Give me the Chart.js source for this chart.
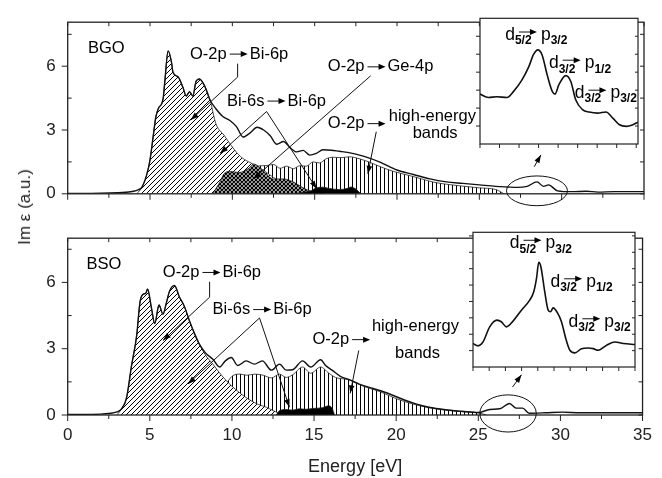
<!DOCTYPE html>
<html>
<head>
<meta charset="utf-8">
<script src="https://cdn.jsdelivr.net/npm/chart.js@4.4.0/dist/chart.umd.min.js"></script>
<style>
  body { margin: 0; background: #fff; }
  #wrap { position: relative; width: 662px; height: 478px; overflow: hidden; background: #fff;
          font-family: 'Liberation Sans', Arial, sans-serif; }
  canvas { position: absolute; }
  #ylab { position: absolute; left: 25px; top: 207px; transform: translate(-50%, -50%) rotate(-90deg);
          font-size: 17px; color: #222; white-space: nowrap; }
</style>
</head>
<body>
<div id="wrap">
  <canvas id="bgo" width="662" height="216" style="left:0;top:0"></canvas>
  <canvas id="bso" width="662" height="262" style="left:0;top:216px"></canvas>
  <canvas id="bgoInset" width="167" height="135" style="left:474px;top:16px"></canvas>
  <canvas id="bsoInset" width="171" height="144" style="left:467px;top:230px"></canvas>
  <div id="ylab">Im ε (a.u.)</div>
</div>
<script>
// ---- BGO (top panel) ----
const bgoTotalE = [0, 1, 2, 3, 3.5, 4, 4.3, 4.5, 4.8, 5.0, 5.2, 5.35, 5.5, 5.8, 5.9, 6.1, 6.3, 6.4, 6.7, 7.0,
  7.2, 7.4, 7.6, 7.8, 8.0, 8.3, 8.65, 9.0, 9.4, 9.85, 10.25, 10.65, 11.1, 11.5, 11.9, 12.3, 12.7, 13.1, 13.5, 13.9,
  14.3, 14.7, 15.1, 15.5, 16.0, 16.5, 17.0, 18.0, 19.0, 20.0, 21, 22, 23, 24, 25, 26, 26.7, 27.3, 27.9, 28.5,
  28.9, 29.2, 29.75, 30.6, 31.5, 32.2, 33.2, 34.2, 35];
const bgoTotalIm = [0.02, 0.02, 0.03, 0.05, 0.07, 0.12, 0.2, 0.3, 0.9, 1.6, 2.75, 3.6, 4.0, 4.5, 5.3, 6.72, 6.2, 5.7, 5.5, 5.0,
  4.6, 4.8, 4.6, 5.3, 5.4, 5.1, 4.4, 4.0, 3.65, 3.45, 3.16, 2.67, 2.88, 3.13, 3.0, 2.73, 2.33, 2.46, 2.17, 1.97,
  2.04, 1.82, 1.9, 2.07, 2.05, 2.0, 1.95, 1.76, 1.48, 1.12, 0.91, 0.7, 0.56, 0.49, 0.42, 0.35, 0.32, 0.3, 0.35, 0.56,
  0.35, 0.42, 0.14, 0.1, 0.12, 0.08, 0.1, 0.1, 0.1];
// O-2p -> Bi-6p
const bgoBiE = [4.2, 4.5, 4.8, 5.0, 5.2, 5.35, 5.5, 5.8, 5.9, 6.1, 6.3, 6.4, 6.7, 7.0, 7.2, 7.4, 7.6, 7.8, 8.0, 8.3, 8.65,
  9.0, 9.5, 10.0, 10.5, 11.0, 11.5, 12.0, 12.5, 13.0, 13.5, 14.0, 14.5, 15.0, 15.5];
const bgoBiIm = [0, 0.3, 0.9, 1.6, 2.75, 3.6, 4.0, 4.5, 5.3, 6.72, 6.2, 5.7, 5.5, 5.0, 4.6, 4.8, 4.6, 5.3, 5.4, 5.1, 4.4,
  3.3, 2.75, 2.2, 1.75, 1.5, 1.3, 1.05, 0.77, 0.55, 0.4, 0.3, 0.15, 0.08, 0];
// O-2p -> Ge-4p
const bgoGeE = [8.8, 9.25, 9.5, 9.85, 10.4, 11.0, 11.3, 11.9, 12.5, 13.1, 13.7, 14.3, 14.9, 15.2];
const bgoGeIm = [0, 0.56, 0.95, 1.05, 1.0, 1.2, 1.4, 1.05, 0.7, 0.7, 0.56, 0.28, 0.07, 0];
// O-2p -> high-energy bands
const bgoHighE = [10.0, 10.5, 11.0, 11.5, 12.1, 12.5, 12.9, 13.3, 13.7, 14.1, 14.5, 14.9, 15.3, 15.7, 16.1, 16.6, 17.1,
  17.7, 18.35, 19.0, 19.8, 20.8, 21.5, 22.2, 23.0, 24.0, 25.0, 26.0, 26.5];
const bgoHighIm = [0, 0.9, 1.15, 1.3, 1.33, 1.38, 1.2, 1.3, 1.18, 1.32, 1.3, 1.5, 1.45, 1.65, 1.72, 1.7, 1.74,
  1.65, 1.48, 1.27, 1.05, 0.85, 0.7, 0.55, 0.45, 0.36, 0.28, 0.2, 0];
// Bi-6s -> Bi-6p
const bgoSsE = [13.8, 14.2, 14.8, 15.1, 15.5, 15.9, 16.5, 17.0, 17.2, 17.5, 17.8];
const bgoSsIm = [0, 0.06, 0.15, 0.28, 0.31, 0.25, 0.2, 0.26, 0.32, 0.22, 0];

// ---- BSO (bottom panel) ----
const bsoTotalE = [0, 1, 2, 2.5, 3.0, 3.3, 3.58, 3.88, 4.2, 4.4, 4.6, 4.75, 4.86, 5.1, 5.3, 5.56, 5.8, 6.0, 6.2, 6.5,
  6.8, 7.1, 7.4, 7.7, 8.0, 8.4, 8.84, 9.25, 9.6, 9.96, 10.35, 10.87, 11.37, 11.85, 12.4, 12.9, 13.3, 13.7, 14.3, 14.8,
  15.4, 15.7, 16.1, 16.6, 17.1, 17.75, 18.6, 19.6, 20.5, 21.3, 22, 23, 24, 25, 25.7, 26.3, 26.9, 27.3, 27.7, 28.1,
  29.1, 30.1, 31.2, 32.2, 33.5, 35];
const bsoTotalIm = [0.02, 0.02, 0.04, 0.07, 0.14, 0.3, 0.77, 2.2, 3.6, 5.1, 5.47, 5.5, 5.7, 4.84, 4.14, 4.98, 4.56, 5.05, 5.6, 5.86,
  5.34, 4.92, 4.29, 3.72, 3.23, 2.8, 2.52, 2.17, 2.45, 2.6, 2.24, 2.45, 2.3, 2.45, 2.03, 2.3, 2.03, 2.05, 2.45, 2.17,
  2.5, 2.24, 2.03, 1.75, 1.61, 1.4, 1.2, 0.95, 0.68, 0.48, 0.35, 0.24, 0.17, 0.11, 0.25, 0.28, 0.52, 0.31, 0.31, 0.08,
  0.1, 0.13, 0.1, 0.1, 0.1, 0.1];
const bsoBiE = [3.0, 3.3, 3.58, 3.88, 4.2, 4.4, 4.6, 4.75, 4.86, 5.1, 5.3, 5.56, 5.8, 6.0, 6.2, 6.5, 6.8, 7.1, 7.4, 7.7,
  8.0, 8.4, 8.84, 9.2, 9.6, 10.0, 10.4, 10.8, 11.2, 11.6, 12.1, 12.5, 12.8, 13.0];
const bsoBiIm = [0, 0.3, 0.77, 2.2, 3.6, 5.1, 5.47, 5.5, 5.7, 4.84, 4.14, 4.98, 4.56, 5.05, 5.6, 5.86, 5.34, 4.92, 4.29, 3.72,
  3.23, 2.7, 2.3, 1.95, 1.6, 1.3, 1.05, 0.82, 0.63, 0.48, 0.35, 0.2, 0.1, 0];
const bsoHighE = [8.3, 8.8, 9.2, 9.6, 10.0, 10.5, 10.9, 11.4, 11.9, 12.4, 12.9, 13.3, 13.7, 14.3, 14.8, 15.4, 15.9, 16.3,
  16.6, 17.1, 18.0, 19.0, 20.0, 21.0, 22.0, 23.0, 24.0, 25.0, 25.5];
const bsoHighIm = [0, 0.6, 1.0, 1.35, 1.75, 1.85, 1.8, 1.85, 1.8, 1.68, 1.85, 1.7, 1.82, 2.17, 1.89, 2.17, 1.89, 1.7,
  1.65, 1.6, 1.3, 1.06, 0.74, 0.5, 0.33, 0.22, 0.15, 0.1, 0];
const bsoSsE = [12.7, 12.9, 13.3, 13.7, 14.1, 14.5, 15.0, 15.5, 15.9, 16.1, 16.25];
const bsoSsIm = [0, 0.2, 0.25, 0.22, 0.28, 0.26, 0.3, 0.33, 0.42, 0.3, 0];

// ---- insets (arbitrary units) ----
const bgoInsetX = [0, 0.43, 0.86, 1.38, 1.72, 2.15, 2.5, 2.75, 2.96, 3.18, 3.44, 3.7, 3.84, 4.04, 4.39, 4.65, 4.9,
  5.25, 5.59, 6.02, 6.45, 6.8, 7.14, 7.49, 7.83, 8.09];
const bgoInsetY = [2.78, 2.59, 2.63, 2.59, 2.93, 3.57, 4.31, 5.0, 5.24, 4.96, 3.85, 2.93, 2.78, 3.3, 3.81, 3.48, 2.46,
  1.91, 1.78, 1.72, 1.78, 1.44, 1.07, 0.98, 1.07, 1.22];
const bsoInsetX = [0, 0.31, 0.62, 1.03, 1.48, 1.75, 2.06, 2.47, 2.99, 3.5, 3.75, 3.92, 4.06, 4.19, 4.43, 4.64, 4.78,
  4.95, 5.2, 5.46, 5.73, 5.98, 6.29, 6.7, 7.11, 7.42, 7.73, 8.25, 8.76, 9.28, 10];
const bsoInsetY = [1.43, 1.29, 1.53, 2.45, 2.86, 2.76, 2.45, 2.8, 3.47, 4.08, 4.59, 5.41, 6.39, 6.12, 4.59, 3.47, 3.37,
  3.61, 3.33, 2.76, 1.73, 1.02, 0.86, 1.12, 1.16, 1.12, 1.02, 1.33, 1.53, 1.43, 1.37];

const FAM = "'Liberation Sans', Arial, sans-serif";
const NOTE = '16.5px ' + FAM;
Chart.defaults.font.family = FAM;
Chart.defaults.color = '#222';

function pts(xs, ys) {
  return xs.map((x, i) => ({ x: x, y: ys[i] }));
}

function hatch(ctx, kind) {
  const s = kind === 'diag' ? 5 : 4;
  const c = document.createElement('canvas');
  c.width = s; c.height = s;
  const g = c.getContext('2d');
  g.fillStyle = '#fff';
  g.fillRect(0, 0, s, s);
  g.strokeStyle = '#000';
  g.lineWidth = kind === 'cross' ? 1.25 : 1;
  g.beginPath();
  if (kind === 'vert') { g.moveTo(0.5, 0); g.lineTo(0.5, s); }
  if (kind === 'diag' || kind === 'cross') {
    g.moveTo(-1, s + 1); g.lineTo(s + 1, -1);
    g.moveTo(-1, 1); g.lineTo(1, -1);
    g.moveTo(s - 1, s + 1); g.lineTo(s + 1, s - 1);
  }
  if (kind === 'cross') {
    g.moveTo(-1, -1); g.lineTo(s + 1, s + 1);
    g.moveTo(s - 1, -1); g.lineTo(s + 1, 1);
    g.moveTo(-1, s - 1); g.lineTo(1, s + 1);
  }
  g.stroke();
  return ctx.createPattern(c, 'repeat');
}

function region(xs, ys, bg) {
  return { data: pts(xs, ys), fill: 'origin', backgroundColor: bg, borderColor: '#222', borderWidth: 0.8,
           pointRadius: 0, cubicInterpolationMode: 'monotone' };
}
function curve(xs, ys, w) {
  return { data: pts(xs, ys), fill: false, borderColor: '#111', borderWidth: w, pointRadius: 0,
           cubicInterpolationMode: 'monotone' };
}

function arrowHead(c, x0, y0, x1, y1, len, half) {
  const a = Math.atan2(y1 - y0, x1 - x0);
  c.beginPath();
  c.moveTo(x1, y1);
  c.lineTo(x1 - len * Math.cos(a) + half * Math.sin(a), y1 - len * Math.sin(a) - half * Math.cos(a));
  c.lineTo(x1 - len * Math.cos(a) - half * Math.sin(a), y1 - len * Math.sin(a) + half * Math.cos(a));
  c.closePath();
  c.fill();
}
function leader(c, p) {
  c.beginPath();
  c.moveTo(p[0][0], p[0][1]);
  for (let i = 1; i < p.length; i++) c.lineTo(p[i][0], p[i][1]);
  c.stroke();
  const a = p[p.length - 2], b = p[p.length - 1];
  arrowHead(c, a[0], a[1], b[0], b[1], 8, 2.8);
}
function transition(c, x, y, a, b) {
  c.fillText(a, x, y);
  const p = x + c.measureText(a).width + 3;
  c.beginPath(); c.moveTo(p, y); c.lineTo(p + 12, y); c.stroke();
  arrowHead(c, p, y, p + 18, y, 7, 3);
  if (b) c.fillText(b, p + 20, y);
}
function spinLabel(c, x, y, s1, s2) {
  c.font = '17.5px ' + FAM;
  c.fillText('d', x, y);
  const d1 = x + c.measureText('d').width;
  c.font = 'bold 12px ' + FAM;
  c.fillText(s1, d1, y + 6);
  const a0 = d1 + 4, a1 = a0 + 18;
  c.beginPath(); c.moveTo(a0, y - 3); c.lineTo(a1 - 5, y - 3); c.stroke();
  arrowHead(c, a0, y - 3, a1, y - 3, 7, 3);
  const p = a1 + 4;
  c.font = '17.5px ' + FAM;
  c.fillText('p', p, y);
  const p1 = p + c.measureText('p').width;
  c.font = 'bold 12px ' + FAM;
  c.fillText(s2, p1, y + 6);
}

// frame and tick marks of a main panel
const frame = {
  id: 'frame',
  afterDatasetsDraw(chart) {
    const { ctx, chartArea: a, scales: { x, y } } = chart;
    ctx.save();
    ctx.strokeStyle = '#222';
    ctx.lineWidth = 1.3;
    ctx.strokeRect(a.left, a.top, a.right - a.left, a.bottom - a.top);
    ctx.lineWidth = 1;
    ctx.beginPath();
    x.ticks.forEach(t => {
      const px = x.getPixelForValue(t.value);
      const major = Math.abs(t.value % 5) < 1e-6;
      ctx.moveTo(px, a.bottom); ctx.lineTo(px, a.bottom + (major ? 6 : 4));
      ctx.moveTo(px, a.top); ctx.lineTo(px, a.top + 4);
    });
    y.ticks.forEach(t => {
      const py = y.getPixelForValue(t.value);
      const major = Math.abs(t.value % 3) < 1e-6;
      if (major) { ctx.moveTo(a.left - 6, py); ctx.lineTo(a.left, py); }
      else { ctx.moveTo(a.left, py); ctx.lineTo(a.left + 4, py); }
      ctx.moveTo(a.right, py); ctx.lineTo(a.right - 4, py);
    });
    ctx.stroke();
    ctx.restore();
  }
};

function mainOptions(ymax, padTop, xh, withLabels) {
  return {
    responsive: false,
    animation: false,
    events: [],
    layout: { padding: { top: padTop, right: 18, left: 0, bottom: 0 } },
    plugins: { legend: { display: false }, tooltip: { enabled: false } },
    scales: {
      x: {
        type: 'linear', min: 0, max: 35,
        grid: { display: false, drawTicks: false },
        border: { display: false },
        ticks: { display: withLabels, stepSize: 2.5, includeBounds: false, autoSkip: false, maxRotation: 0,
                 padding: 10, font: { size: 17 }, callback: v => (Math.abs(v % 5) < 1e-6 ? v : '') },
        title: { display: withLabels, text: 'Energy [eV]', font: { size: 18 }, padding: 0 },
        afterFit: s => { s.height = xh; }
      },
      y: {
        min: 0, max: ymax,
        grid: { display: false, drawTicks: false },
        border: { display: false },
        ticks: { stepSize: 1.5, includeBounds: false, padding: 12, font: { size: 17 },
                 callback: v => (Math.abs(v % 3) < 1e-6 ? v : '') },
        afterFit: s => { s.width = 67.7; }
      }
    }
  };
}

function noteSetup(chart) {
  const c = chart.ctx;
  c.save();
  c.fillStyle = '#000';
  c.strokeStyle = '#111';
  c.lineWidth = 1;
  c.textBaseline = 'middle';
  c.textAlign = 'left';
  return [c, v => chart.scales.x.getPixelForValue(v), v => chart.scales.y.getPixelForValue(v)];
}

const bgoNotes = {
  id: 'bgoNotes',
  afterDraw(chart) {
    const [c, X, Y] = noteSetup(chart);
    c.font = NOTE;
    c.fillText('BGO', X(1.23), Y(6.82));
    transition(c, X(7.43), Y(6.57), 'O-2p', 'Bi-6p');
    leader(c, [[X(10.32), Y(6.12)], [X(10.32), Y(5.49)], [X(7.47), Y(3.47)]]);
    transition(c, X(9.67), Y(4.36), 'Bi-6s', 'Bi-6p');
    leader(c, [[X(12.08), Y(3.87)], [X(9.25), Y(1.9)]]);
    leader(c, [[X(12.08), Y(3.87)], [X(15.12), Y(0.24)]]);
    transition(c, X(15.8), Y(5.97), 'O-2p', 'Ge-4p');
    leader(c, [[X(18.4), Y(5.55)], [X(11.27), Y(0.7)]]);
    transition(c, X(15.8), Y(3.3), 'O-2p', '');
    c.fillText('high-energy', X(19.5), Y(3.64));
    c.fillText('bands', X(20.95), Y(2.86));
    leader(c, [[X(18.74), Y(2.92)], [X(18.23), Y(0.94)]]);
    leader(c, [[X(28.33), Y(1.27)], [X(28.74), Y(1.83)]]);
    c.beginPath();
    c.ellipse(X(28.5), Y(0.14), X(28.5 + 1.85) - X(28.5), Y(0) - Y(0.7), 0, 0, Math.PI * 2);
    c.stroke();
    c.restore();
  }
};

const bsoNotes = {
  id: 'bsoNotes',
  afterDraw(chart) {
    const [c, X, Y] = noteSetup(chart);
    c.font = NOTE;
    c.fillText('BSO', X(1.15), Y(6.8));
    transition(c, X(5.79), Y(6.45), 'O-2p', 'Bi-6p');
    leader(c, [[X(8.64), Y(6.03)], [X(8.64), Y(5.33)], [X(5.8), Y(3.37)]]);
    transition(c, X(8.82), Y(4.77), 'Bi-6s', 'Bi-6p');
    leader(c, [[X(11.68), Y(4.39)], [X(7.32), Y(1.4)]]);
    leader(c, [[X(11.68), Y(4.39)], [X(13.5), Y(0.35)]]);
    transition(c, X(14.9), Y(3.41), 'O-2p', '');
    c.fillText('high-energy', X(18.52), Y(4.0));
    c.fillText('bands', X(19.93), Y(2.8));
    leader(c, [[X(17.72), Y(2.92)], [X(17.2), Y(0.98)]]);
    leader(c, [[X(27.08), Y(1.26)], [X(27.63), Y(1.82)]]);
    c.beginPath();
    c.ellipse(X(26.81), Y(0.07), X(26.81 + 1.72) - X(26.81), Y(0) - Y(0.84), 0, 0, Math.PI * 2);
    c.stroke();
    c.restore();
  }
};

const bgoCtx = document.getElementById('bgo').getContext('2d');
new Chart(bgoCtx, {
  type: 'line',
  data: { datasets: [
    curve(bgoTotalE, bgoTotalIm, 1.4),
    region(bgoSsE, bgoSsIm, '#000'),
    region(bgoGeE, bgoGeIm, hatch(bgoCtx, 'cross')),
    region(bgoBiE, bgoBiIm, hatch(bgoCtx, 'diag')),
    region(bgoHighE, bgoHighIm, hatch(bgoCtx, 'vert'))
  ] },
  options: mainOptions(8.07, 7.5, 17.7, false),
  plugins: [frame, bgoNotes]
});

const bsoCtx = document.getElementById('bso').getContext('2d');
new Chart(bsoCtx, {
  type: 'line',
  data: { datasets: [
    curve(bsoTotalE, bsoTotalIm, 1.4),
    region(bsoSsE, bsoSsIm, '#000'),
    region(bsoBiE, bsoBiIm, hatch(bsoCtx, 'diag')),
    region(bsoHighE, bsoHighIm, hatch(bsoCtx, 'vert'))
  ] },
  options: mainOptions(8.0, 9, 63, true),
  plugins: [frame, bsoNotes]
});

function inset(id, xs, ys, xmax, ymax, labels) {
  const plug = {
    id: 'insetDeco',
    beforeDatasetsDraw(chart) {
      const { ctx, chartArea: a } = chart;
      ctx.save();
      ctx.fillStyle = '#fff';
      ctx.fillRect(a.left, a.top, a.right - a.left, a.bottom - a.top);
      ctx.restore();
    },
    afterDatasetsDraw(chart) {
      const { ctx, chartArea: a, scales: { x, y } } = chart;
      ctx.save();
      ctx.strokeStyle = '#222';
      ctx.lineWidth = 1.2;
      ctx.strokeRect(a.left, a.top, a.right - a.left, a.bottom - a.top);
      ctx.lineWidth = 1;
      ctx.beginPath();
      for (let v = 0; v <= xmax + 1e-6; v++) {
        const px = x.getPixelForValue(v);
        ctx.moveTo(px, a.bottom); ctx.lineTo(px, a.bottom + 4);
      }
      for (let v = 1; v < ymax; v++) {
        const py = y.getPixelForValue(v);
        ctx.moveTo(a.left - 4, py); ctx.lineTo(a.left, py);
        ctx.moveTo(a.right, py); ctx.lineTo(a.right - 3, py);
      }
      ctx.stroke();
      ctx.fillStyle = '#000';
      ctx.strokeStyle = '#111';
      ctx.textBaseline = 'middle';
      labels.forEach(l => spinLabel(ctx, x.getPixelForValue(l[0]), y.getPixelForValue(l[1]), l[2], l[3]));
      ctx.restore();
    }
  };
  new Chart(document.getElementById(id), {
    type: 'line',
    data: { datasets: [curve(xs, ys, 1.6)] },
    options: {
      responsive: false, animation: false, events: [],
      layout: { padding: { left: 6, top: 2.3, right: 3, bottom: 7 } },
      plugins: { legend: { display: false }, tooltip: { enabled: false } },
      scales: {
        x: { type: 'linear', min: 0, max: xmax, display: false },
        y: { min: 0, max: ymax, display: false }
      }
    },
    plugins: [plug]
  });
}

inset('bgoInset', bgoInsetX, bgoInsetY, 8.09, 7.0,
  [[1.29, 6.07, '5/2', '3/2'], [3.53, 4.5, '3/2', '1/2'], [4.85, 2.83, '3/2', '3/2']]);
inset('bsoInset', bsoInsetX, bsoInsetY, 10, 8.22,
  [[2.27, 7.55, '5/2', '3/2'], [4.78, 5.2, '3/2', '1/2'], [5.9, 2.76, '3/2', '3/2']]);
</script>
</body>
</html>
